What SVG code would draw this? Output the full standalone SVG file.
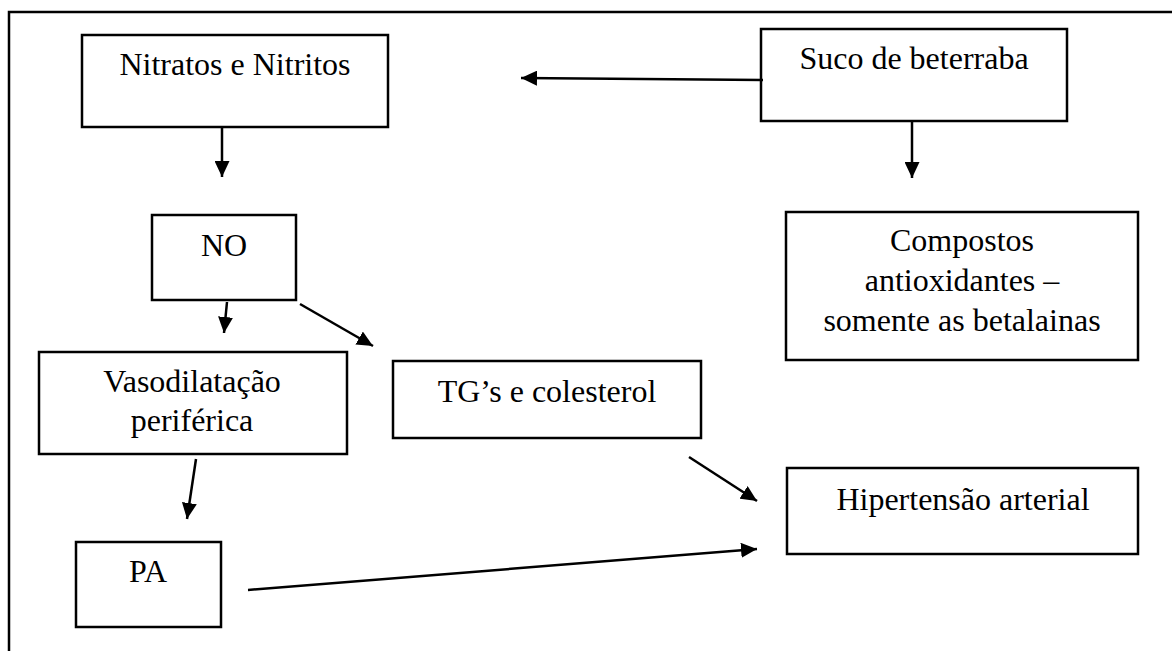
<svg xmlns="http://www.w3.org/2000/svg" width="1172" height="651" viewBox="0 0 1172 651">
<style>
.box{fill:#fff;stroke:#000;stroke-width:2.5}
.t{font-family:"Liberation Serif","Times New Roman",serif;font-size:32px;fill:#000;text-anchor:middle}
.c{stroke:#000;stroke-width:2.5;fill:none;marker-end:url(#ah)}
</style>
<defs>
<marker id="ah" markerWidth="16" markerHeight="15" refX="16" refY="7.5" orient="auto" markerUnits="userSpaceOnUse">
<path d="M0,0 L16,7.5 L0,15 z" fill="#000"/>
</marker>
</defs>
<rect width="1172" height="651" fill="#fff"/>
<path d="M9,651 V12 H1172" fill="none" stroke="#000" stroke-width="2.5"/>
<g id="n-nitratos"><rect class="box" x="82" y="35" width="306" height="92"/><text class="t" x="235" y="75">Nitratos e Nitritos</text></g>
<g id="n-suco"><rect class="box" x="761" y="29" width="306" height="92"/><text class="t" x="914" y="69">Suco de beterraba</text></g>
<g id="n-no"><rect class="box" x="152" y="215" width="144" height="85"/><text class="t" x="224" y="256">NO</text></g>
<g id="n-compostos"><rect class="box" x="786" y="212" width="352" height="148"/><text class="t" x="962" y="251">Compostos</text><text class="t" x="962" y="291">antioxidantes –</text><text class="t" x="962" y="331">somente as betalainas</text></g>
<g id="n-vaso"><rect class="box" x="39" y="352" width="308" height="102"/><text class="t" x="192" y="392">Vasodilatação</text><text class="t" x="192" y="431">periférica</text></g>
<g id="n-tg"><rect class="box" x="393" y="361" width="308" height="77"/><text class="t" x="547" y="402">TG’s e colesterol</text></g>
<g id="n-pa"><rect class="box" x="76" y="542" width="145" height="85"/><text class="t" x="148" y="582">PA</text></g>
<g id="n-hip"><rect class="box" x="787" y="468" width="351" height="86"/><text class="t" x="963" y="510">Hipertensão arterial</text></g>
<g id="connectors">
<line class="c" x1="763" y1="80" x2="521" y2="78"/>
<line class="c" x1="222" y1="127" x2="222" y2="177"/>
<line class="c" x1="912" y1="121" x2="912" y2="178"/>
<line class="c" x1="227" y1="302" x2="224" y2="333"/>
<line class="c" x1="300" y1="304" x2="373" y2="346"/>
<line class="c" x1="196" y1="459" x2="187" y2="519"/>
<line class="c" x1="689" y1="457" x2="757" y2="501"/>
<line class="c" x1="248" y1="590" x2="757" y2="549"/>
</g>
</svg>
